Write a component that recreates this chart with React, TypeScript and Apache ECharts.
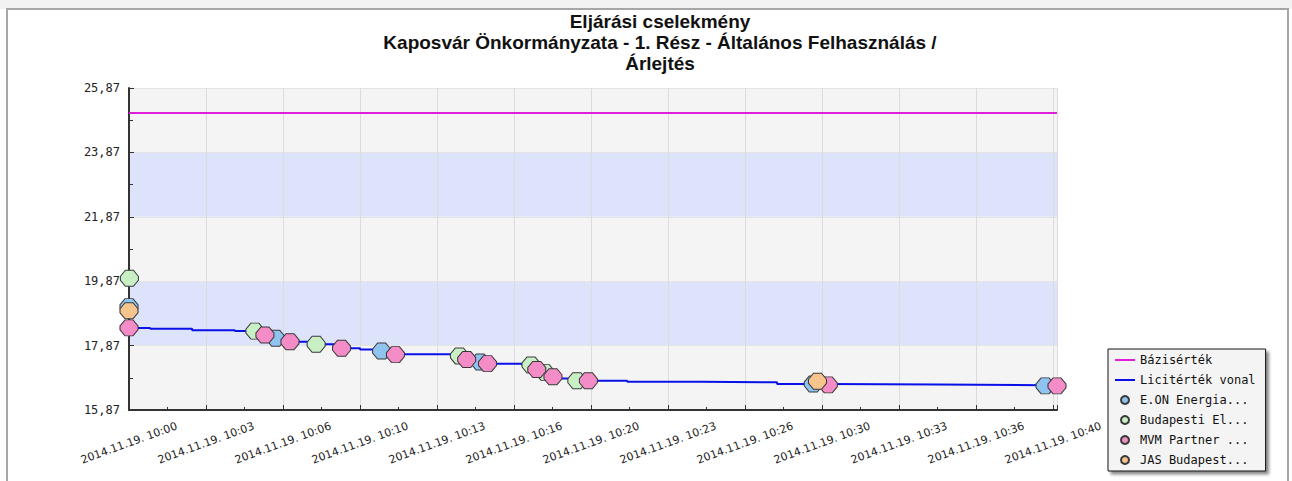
import React, { useEffect, useRef } from "react";
import * as echarts from "echarts";

// ---- data ----
const titleLines = [
  "Eljárási cselekmény",
  "Kaposvár Önkormányzata - 1. Rész - Általános Felhasználás /",
  "Árlejtés",
];
const datePrefix = "2014.11.19.";
const startHour = 10;

const baseName = "Bázisérték";
const baseTimes = ["10:00:00", "10:40:10"];
const baseValues = [25.09, 25.09];

const lineName = "Licitérték vonal";
const lineTimes = [
  "10:00:00", "10:00:55", "10:02:44", "10:04:35", "10:05:27", "10:05:53", "10:06:21",
  "10:06:58", "10:08:06", "10:09:12", "10:10:00", "10:10:56", "10:11:32", "10:13:58",
  "10:14:18", "10:14:37", "10:15:12", "10:15:31", "10:17:00", "10:17:24", "10:17:39",
  "10:18:01", "10:18:21", "10:18:40", "10:19:23", "10:21:34", "10:24:43", "10:28:03",
  "10:29:37", "10:30:16", "10:34:58", "10:39:39", "10:40:10",
];
const lineValues = [
  18.42, 18.39, 18.35, 18.32, 18.32, 18.2, 18.1,
  17.99, 17.91, 17.79, 17.75, 17.7, 17.6, 17.56,
  17.55, 17.44, 17.36, 17.31, 17.28, 17.27, 17.13,
  17.03, 16.9, 16.85, 16.78, 16.75, 16.73, 16.68,
  16.68, 16.66, 16.64, 16.62, 16.62,
];

const eonName = "E.ON Energia...";
const eonTimes = ["10:00:00", "10:06:21", "10:10:56", "10:15:12", "10:29:37", "10:39:39"];
const eonValues = [19.08, 18.1, 17.7, 17.36, 16.68, 16.62];

const budName = "Budapesti El...";
const budTimes = ["10:00:01", "10:05:27", "10:08:06", "10:14:18", "10:17:24", "10:18:01", "10:19:23"];
const budValues = [19.96, 18.32, 17.91, 17.55, 17.27, 17.03, 16.78];

const mvmName = "MVM Partner ...";
const mvmTimes = [
  "10:00:00", "10:05:53", "10:06:58", "10:09:12", "10:11:32", "10:14:37",
  "10:15:31", "10:17:39", "10:18:21", "10:19:53", "10:30:16", "10:40:10",
];
const mvmValues = [18.42, 18.2, 17.99, 17.79, 17.59, 17.44, 17.31, 17.13, 16.9, 16.78, 16.65, 16.62];

const jasName = "JAS Budapest...";
const jasTimes = ["10:00:00", "10:29:48"];
const jasValues = [18.95, 16.76];

const yMin = 15.87;
const yMax = 25.87;
const yStep = 2;
const xMaxTime = "10:40:10";
const xStepSeconds = 200;

// ---- helpers ----
const toSec = (t: string) => {
  const [h, m, s] = t.split(":").map(Number);
  return (h - startHour) * 3600 + m * 60 + s;
};
const pairs = (times: string[], values: number[]) =>
  times.map((t, i) => [toSec(t), values[i]]);
const fmtX = (v: number) => {
  const total = startHour * 60 + Math.floor(v / 60);
  const hh = Math.floor(total / 60);
  const mm = total % 60;
  return `${datePrefix} ${String(hh).padStart(2, "0")}:${String(mm).padStart(2, "0")}`;
};

const markerPath = "path://M5,0L13,0L18,6L18,10L13,16L5,16L0,10L0,6Z";
const lineIcon = "path://M0,0L20,0L20,2L0,2Z";

export default function App() {
  const ref = useRef<HTMLDivElement>(null);
  useEffect(() => {
    if (!ref.current) return;
    const chart = echarts.init(ref.current, null, { renderer: "svg" });
    const scatter = (name: string, color: string, times: string[], values: number[]) => ({
      name,
      type: "scatter",
      data: pairs(times, values),
      symbol: markerPath,
      symbolSize: [18, 16],
      clip: false,
      z: 5,
      itemStyle: { color, borderColor: "#3a3a3a", borderWidth: 1, opacity: 1 },
    });
    chart.setOption({
      animation: false,
      backgroundColor: "#ffffff",
      title: {
        text: titleLines.join("\n"),
        left: 655,
        top: 6,
        textAlign: "center",
        textStyle: {
          fontFamily: "Liberation Sans",
          fontWeight: "bold",
          fontSize: 19,
          lineHeight: 21,
          color: "#111",
        },
      },
      graphic: [
        { type: "rect", z: -10, shape: { x: 0, y: 0, width: 1292, height: 9 }, style: { fill: "#f2f2f2" } },
        {
          type: "rect",
          z: -10,
          shape: { x: 7, y: 9, width: 1281, height: 480 },
          style: { fill: "none", stroke: "#a6a6a6", lineWidth: 2 },
        },
      ],
      legend: {
        orient: "vertical",
        left: 1108,
        top: 349,
        padding: [4, 10, 4, 7],
        itemWidth: 20,
        itemHeight: 8,
        itemGap: 6,
        backgroundColor: "#f4f4f4",
        borderColor: "#111",
        borderWidth: 1,
        shadowColor: "rgba(0,0,0,0.45)",
        shadowBlur: 3,
        shadowOffsetX: 3,
        shadowOffsetY: 3,
        textStyle: { fontFamily: "DejaVu Sans Mono", fontSize: 12, lineHeight: 14, color: "#111" },
        data: [
          { name: baseName, icon: lineIcon },
          { name: lineName, icon: lineIcon },
          { name: eonName, icon: "circle" },
          { name: budName, icon: "circle" },
          { name: mvmName, icon: "circle" },
          { name: jasName, icon: "circle" },
        ],
      },
      grid: { left: 129, top: 88, width: 928, height: 322 },
      xAxis: {
        type: "value",
        min: 0,
        max: toSec(xMaxTime),
        interval: xStepSeconds,
        axisLine: { show: true, lineStyle: { color: "#333", width: 2 } },
        axisTick: { show: true, inside: true, length: 5, lineStyle: { color: "#333" } },
        minorTick: { show: true, splitNumber: 2, length: 3, lineStyle: { color: "#333" } },
        splitLine: { show: true, lineStyle: { color: "#dcdcdc", width: 1 } },
        axisLabel: {
          formatter: fmtX,
          rotate: 20,
          align: "center",
          verticalAlign: "middle",
          margin: 33,
          showMaxLabel: false,
          fontFamily: "DejaVu Sans",
          fontSize: 11,
          color: "#222",
        },
      },
      yAxis: {
        type: "value",
        min: yMin,
        max: yMax,
        interval: yStep,
        axisLine: { show: true, lineStyle: { color: "#333", width: 2 } },
        axisTick: { show: true, inside: true, length: 5, lineStyle: { color: "#333" } },
        minorTick: { show: true, splitNumber: 2, length: 4, lineStyle: { color: "#333" } },
        splitLine: { show: true, lineStyle: { color: "#e4e4e4", width: 1 } },
        splitArea: { show: true, areaStyle: { color: ["#f4f4f4", "#dce3fb"] } },
        axisLabel: {
          formatter: (v: number) => v.toFixed(2).replace(".", ","),
          margin: 9,
          fontFamily: "DejaVu Sans Mono",
          fontSize: 12,
          color: "#222",
        },
      },
      series: [
        {
          name: baseName,
          type: "line",
          data: pairs(baseTimes, baseValues),
          showSymbol: false,
          symbol: "none",
          itemStyle: { color: "#e020d8" },
          lineStyle: { color: "#e020d8", width: 2 },
          z: 3,
        },
        {
          name: lineName,
          type: "line",
          step: "end",
          data: pairs(lineTimes, lineValues),
          showSymbol: false,
          symbol: "none",
          clip: false,
          itemStyle: { color: "#0a10e8" },
          lineStyle: { color: "#0a10e8", width: 2 },
          z: 3,
        },
        scatter(eonName, "#8fc4f0", eonTimes, eonValues),
        scatter(budName, "#c8f0c4", budTimes, budValues),
        scatter(mvmName, "#f48cc8", mvmTimes, mvmValues),
        scatter(jasName, "#f7c48e", jasTimes, jasValues),
      ],
    });
    return () => chart.dispose();
  }, []);
  return (
    <div
      ref={ref}
      style={{ position: "absolute", left: 0, top: 0, width: 1292, height: 481 }}
    />
  );
}
